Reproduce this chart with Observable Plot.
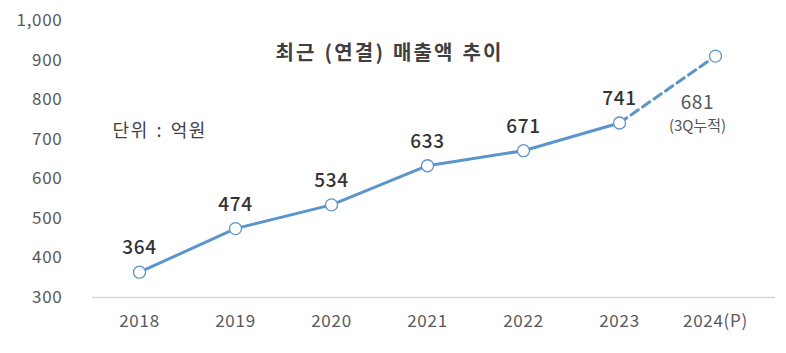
<!DOCTYPE html>
<html><head><meta charset="utf-8">
<script src="https://cdn.jsdelivr.net/npm/d3@7"></script>
<script src="https://cdn.jsdelivr.net/npm/@observablehq/plot@0.6"></script>
<style>
html,body{margin:0;padding:0;background:#fff;}
#chart svg{display:block;}
</style>
</head><body><div id="chart"></div>
<script>
const years = ["2018","2019","2020","2021","2022","2023","2024(P)"];
const values = [364, 474, 534, 633, 671, 741, 910];
const labels = ["364","474","534","633","671","741","681"];
const projectedNote = "(3Q누적)";
const yTicks = [300,400,500,600,700,800,900,1000];
const title = "최근 (연결) 매출액 추이";
const unitNote = "단위 : 억원";

const data = years.map((y,i)=>({year:y, value:values[i], label:labels[i], projected: i===years.length-1}));
const actual = data.filter(d=>!d.projected);
const dashSeg = data.slice(-2);
const proj = data.filter(d=>d.projected);

const font = "'Noto Sans CJK KR', 'Noto Sans', sans-serif";
const blue = "#5b95cc";

const chart = Plot.plot({
  width: 786, height: 353,
  marginLeft: 92, marginRight: 11, marginTop: 20, marginBottom: 56,
  style: {fontFamily: font, background: "#fff"},
  x: {type: "point", domain: years, range: [91, 763], padding: 0.5, label: null},
  y: {domain: [300, 1000], range: [297, 20], label: null},
  marks: [
    Plot.ruleY([300], {stroke: "#d9d9d9", strokeWidth: 1.5}),
    Plot.axisY({ticks: yTicks, tickSize: 0, tickPadding: 30, tickFormat: d3.format(","), fontSize: 17, fill: "#595959", label: null}),
    Plot.axisX({tickSize: 0, tickPadding: 17, fontSize: 17, fill: "#595959", label: null}),
    Plot.line(actual, {x: "year", y: "value", stroke: blue, strokeWidth: 3}),
    Plot.line(dashSeg, {x: "year", y: "value", stroke: blue, strokeWidth: 3, strokeDasharray: "9,5"}),
    Plot.dot(data, {x: "year", y: "value", r: 6, fill: "#fff", stroke: blue, strokeWidth: 1.3}),
    Plot.text(actual, {x: "year", y: "value", text: "label", dy: -24, fontSize: 19, fill: "#333", fontWeight: 500}),
    Plot.text(proj, {x: "year", y: "value", text: "label", dx: -18, dy: 47, fontSize: 19, fill: "#555"}),
    Plot.text(proj, {x: "year", y: "value", text: () => projectedNote, dx: -18, dy: 70, fontSize: 15, fill: "#555"}),
    Plot.text([title], {text: d=>d, frameAnchor: "top-left", dx: 183, dy: 25, fontSize: 20, fontWeight: 700, fill: "#404040", textAnchor: "start"}),
    Plot.text([unitNote], {text: d=>d, frameAnchor: "top-left", dx: 20, dy: 104, fontSize: 18, fill: "#404040", textAnchor: "start"})
  ]
});
// widen letter spacing to mimic the reference typeface
const spacing = new Map([[title, ["2.2px", "1px"]], [unitNote, ["1.6px", "2px"]]]);
d3.select(chart).selectAll("text").each(function() {
  const t = this.textContent;
  if (spacing.has(t)) {
    const [ls, ws] = spacing.get(t);
    this.setAttribute("letter-spacing", ls);
    this.setAttribute("word-spacing", ws);
  } else if (/^[\d,()P]+$/.test(t)) {
    this.setAttribute("letter-spacing", "0.7px");
  }
});
document.getElementById("chart").append(chart);
</script>
</body></html>
